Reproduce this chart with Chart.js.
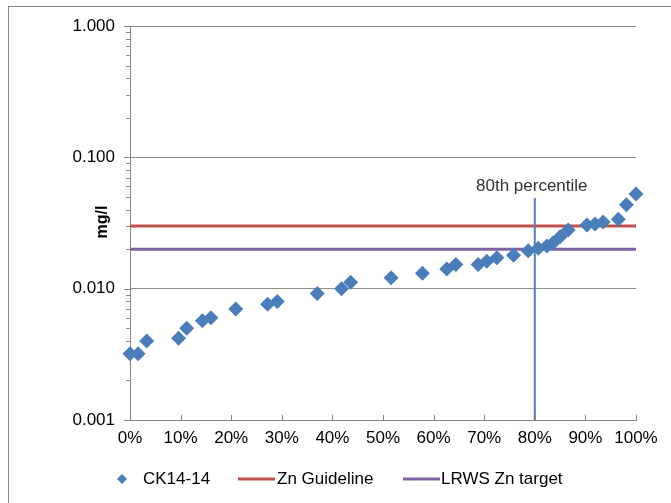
<!DOCTYPE html>
<html>
<head>
<meta charset="utf-8">
<script src="https://cdn.jsdelivr.net/npm/chart.js@4.4.0/dist/chart.umd.min.js"></script>
<style>
  html, body { margin: 0; padding: 0; background: #fff; }
  #wrap { position: relative; width: 671px; height: 503px; }
</style>
</head>
<body>
<div id="wrap"><canvas id="c" width="671" height="503"></canvas></div>
<script>
// Percentile rank of each sample (0..1) and zinc concentration (mg/l)
const percentiles = [0, 0.016, 0.033, 0.096, 0.112, 0.143, 0.160, 0.209, 0.272, 0.291,
  0.370, 0.418, 0.436, 0.516, 0.578, 0.626, 0.644, 0.688, 0.705, 0.725,
  0.758, 0.787, 0.807, 0.824, 0.836, 0.850, 0.866, 0.903, 0.919, 0.935,
  0.965, 0.981, 1.0];
const zincMgL = [0.0032, 0.0032, 0.0040, 0.0042, 0.0050, 0.0057, 0.0060, 0.0070, 0.0076, 0.0080,
  0.0092, 0.0100, 0.0112, 0.0121, 0.0131, 0.0141, 0.0153, 0.0153, 0.0162, 0.0172,
  0.0180, 0.0194, 0.0203, 0.0211, 0.0223, 0.0249, 0.0280, 0.0305, 0.0311, 0.0322,
  0.0337, 0.0436, 0.0526];

const seriesName = 'CK14-14';
const guidelineName = 'Zn Guideline';
const guidelineValue = 0.03;
const targetName = 'LRWS Zn target';
const targetValue = 0.02;
const markerName = '80th percentile';
const markerPercentile = 0.8;
const markerTop = 0.049;
const yTitle = 'mg/l';

// Axis ticks
const xTickValues = [0, 0.1, 0.2, 0.3, 0.4, 0.5, 0.6, 0.7, 0.8, 0.9, 1.0];
const xTickLabels = ['0%', '10%', '20%', '30%', '40%', '50%', '60%', '70%', '80%', '90%', '100%'];
const yMajorTicks = [0.001, 0.01, 0.1, 1];
const yTickLabels = ['0.001', '0.010', '0.100', '1.000'];

// Minor log ticks 2..9 within each decade
const yTickValues = [];
yMajorTicks.forEach((d, i) => {
  yTickValues.push(d);
  if (i < yMajorTicks.length - 1) {
    for (let m = 2; m <= 9; m++) yTickValues.push(+(d * m).toPrecision(3));
  }
});

const FONT = "'Liberation Sans', Arial, sans-serif";
const AXIS_GRAY = '#868686';
const BLUE = '#4a7ebb';
const RED = '#c0504d';
const PURPLE = '#8064a2';

const isMajor = v => yMajorTicks.some(m => Math.abs(m - v) / m < 1e-6);

const decor = {
  id: 'decor',
  afterDraw(chart) {
    const ctx = chart.ctx;
    const xs = chart.scales.x, ys = chart.scales.y;
    const area = chart.chartArea;
    ctx.save();

    // outer frame
    ctx.strokeStyle = '#8a8a8a';
    ctx.lineWidth = 1;
    ctx.strokeRect(8.5, 6.5, 720, 560);

    // y-axis tick marks (outside)
    ctx.strokeStyle = AXIS_GRAY;
    ctx.beginPath();
    yTickValues.forEach(v => {
      const y = Math.round(ys.getPixelForValue(v)) + 0.5;
      const len = isMajor(v) ? 6 : 4;
      ctx.moveTo(area.left - len, y);
      ctx.lineTo(area.left, y);
    });
    // x-axis tick marks (inside)
    xTickValues.forEach(v => {
      const x = Math.round(xs.getPixelForValue(v)) + 0.5;
      ctx.moveTo(x, area.bottom);
      ctx.lineTo(x, area.bottom - 5);
    });
    ctx.stroke();

    // percentile marker label
    ctx.fillStyle = '#333';
    ctx.font = "17px " + FONT;
    ctx.textAlign = 'center';
    ctx.textBaseline = 'middle';
    ctx.fillText(markerName, xs.getPixelForValue(markerPercentile) - 3, ys.getPixelForValue(markerTop) - 12);

    // y-axis title
    ctx.save();
    ctx.translate(103, 222);
    ctx.rotate(-Math.PI / 2);
    ctx.fillStyle = '#000';
    ctx.font = "bold 16px " + FONT;
    ctx.fillText(yTitle, 0, 0);
    ctx.restore();

    // legend
    const ly = 479;
    ctx.font = "17px " + FONT;
    ctx.textAlign = 'left';
    ctx.fillStyle = '#000';
    ctx.save();
    ctx.fillStyle = BLUE;
    ctx.beginPath();
    ctx.moveTo(122, ly - 5); ctx.lineTo(127, ly); ctx.lineTo(122, ly + 5); ctx.lineTo(117, ly);
    ctx.closePath(); ctx.fill();
    ctx.restore();
    ctx.fillText(seriesName, 143, ly);

    ctx.lineWidth = 3;
    ctx.strokeStyle = RED;
    ctx.beginPath(); ctx.moveTo(238, ly); ctx.lineTo(275, ly); ctx.stroke();
    ctx.fillText(guidelineName, 277, ly);

    ctx.strokeStyle = PURPLE;
    ctx.beginPath(); ctx.moveTo(403, ly); ctx.lineTo(440, ly); ctx.stroke();
    ctx.fillText(targetName, 441, ly);

    ctx.restore();
  }
};

new Chart(document.getElementById('c'), {
  type: 'scatter',
  data: {
    datasets: [
      {
        label: markerName,
        type: 'line',
        data: [{ x: markerPercentile, y: 0.001 }, { x: markerPercentile, y: markerTop }],
        borderColor: '#4f81bd', borderWidth: 2, pointRadius: 0, order: 0
      },
      {
        label: seriesName,
        data: percentiles.map((p, i) => ({ x: p, y: zincMgL[i] })),
        pointStyle: 'rectRot', pointRadius: 7.5, pointHoverRadius: 7.5,
        backgroundColor: BLUE, borderColor: BLUE, borderWidth: 0, order: 1,
        clip: false
      },
      {
        label: guidelineName,
        type: 'line',
        data: [{ x: 0, y: guidelineValue }, { x: 1, y: guidelineValue }],
        borderColor: RED, borderWidth: 3, pointRadius: 0, order: 2
      },
      {
        label: targetName,
        type: 'line',
        data: [{ x: 0, y: targetValue }, { x: 1, y: targetValue }],
        borderColor: PURPLE, borderWidth: 3, pointRadius: 0, order: 3
      }
    ]
  },
  options: {
    responsive: false,
    animation: false,
    layout: { padding: { left: 8, top: 26, right: 35, bottom: 0 } },
    plugins: { legend: { display: false }, tooltip: { enabled: false } },
    scales: {
      x: {
        type: 'linear', min: 0, max: 1,
        afterBuildTicks: s => { s.ticks = xTickValues.map(v => ({ value: v })); },
        afterFit: s => { s.height = 83; },
        ticks: {
          autoSkip: false, maxRotation: 0, padding: 8,
          color: '#000', font: { family: FONT, size: 17 },
          callback: (v, i) => xTickLabels[i]
        },
        grid: { display: false, drawTicks: false },
        border: { color: AXIS_GRAY, width: 1 }
      },
      y: {
        type: 'logarithmic', min: 0.001, max: 1,
        afterBuildTicks: s => { s.ticks = yTickValues.map(v => ({ value: v })); },
        afterFit: s => { s.width = 122; },
        ticks: {
          autoSkip: false, padding: 15,
          color: '#000', font: { family: FONT, size: 17 },
          callback: v => {
            const k = yMajorTicks.findIndex(m => Math.abs(m - v) / m < 1e-6);
            return k >= 0 ? yTickLabels[k] : '';
          }
        },
        grid: {
          drawTicks: false,
          color: c => (c.tick && isMajor(c.tick.value)) ? '#8c8c8c' : 'rgba(0,0,0,0)'
        },
        border: { color: AXIS_GRAY, width: 1 }
      }
    }
  },
  plugins: [decor]
});
</script>
</body>
</html>
